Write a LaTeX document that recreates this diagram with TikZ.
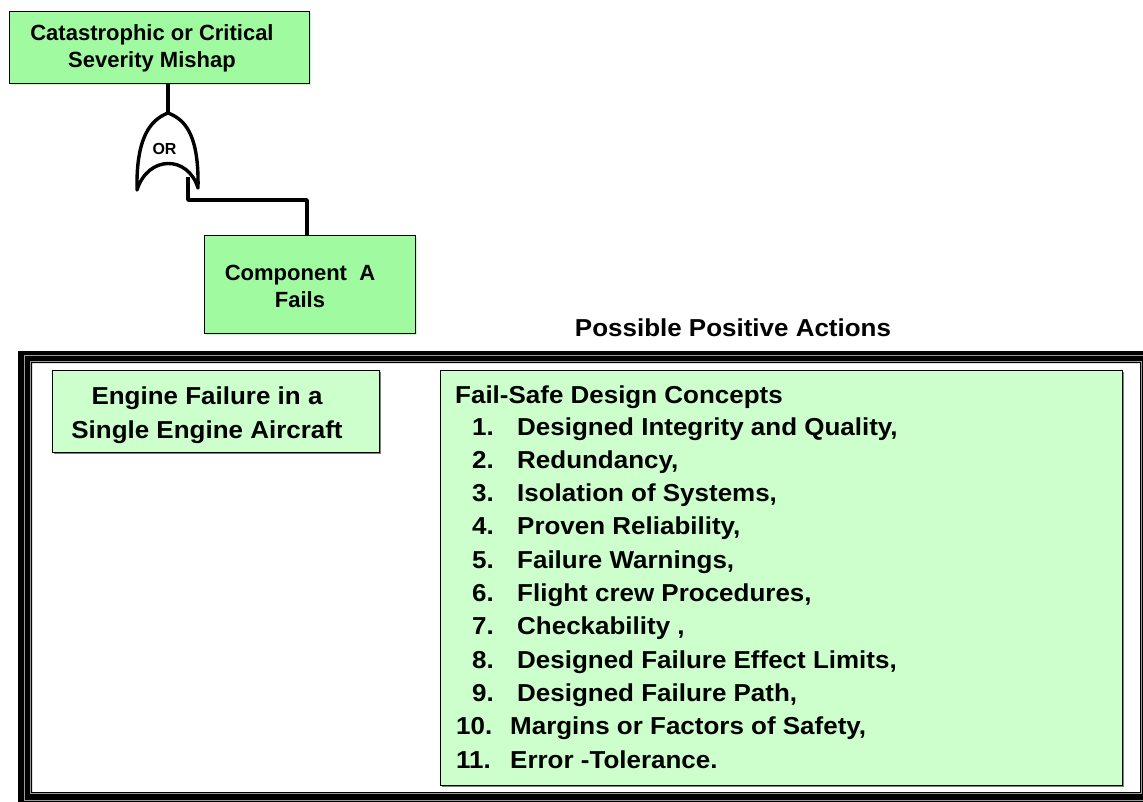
\documentclass[tikz,border=0pt]{standalone}
\usepackage{fontspec}
\setmainfont{Liberation Sans}
\newfontfamily\widef{Liberation Sans}[FakeStretch=1.06]
\definecolor{gA}{HTML}{A0FAA0}
\definecolor{gAs}{HTML}{C8F8C8}
\definecolor{gB}{HTML}{CCFFCC}
\definecolor{bandgray}{HTML}{9A9A9A}
\tikzset{
  boxA/.style={draw=black, line width=1, fill=gA, inner sep=0, anchor=north west},
  boxB/.style={draw=black, line width=0.9, fill=gB, inner sep=0, anchor=north west},
  txtA/.style={font=\fontsize{22}{27}\selectfont\bfseries, align=center, inner sep=0, anchor=base},
  txtB/.style={font=\widef\fontsize{24.5}{34}\selectfont\bfseries, align=center, inner sep=0, anchor=base},
  itemtxt/.style={font=\widef\fontsize{24.5}{30}\selectfont\bfseries, inner sep=0, anchor=base west},
  wire/.style={line width=3.4, line join=round},
}
\begin{document}
\begin{tikzpicture}[x=1pt,y=-1pt]
\useasboundingbox (0,0) rectangle (1143,802);
% top event box
\fill[gAs] (11,13) rectangle (311,85);
\node[boxA, minimum width=300, minimum height=72] (top) at (9,11) {};
\node[txtA] (toptxt) at (152,68) {Catastrophic or Critical\\Severity Mishap};
% OR gate
\coordinate (gtop) at (168,113);
\coordinate (gL) at (137,190);
\coordinate (gR) at (198,188);
\draw[wire, fill=white] (gL) .. controls (136,138) and (150,120) .. (gtop)
   .. controls (187,120) and (199,138) .. (gR)
   .. controls (188,155) and (148,155) .. (gL) -- cycle;
\node[font=\fontsize{16}{16}\selectfont\bfseries, inner sep=0] (ortxt) at (164.5,149) {OR};
\draw[wire] (gtop |- top.south) -- (gtop);
% component box
\fill[gAs] (206,237) rectangle (417,335);
\node[boxA, minimum width=211, minimum height=98] (comp) at (204,235) {};
\node[txtA] (comptxt) at (300,308) {Component\ \ A\\Fails};
\coordinate (gin) at (188,177);
\coordinate (bend) at (307,200);
\draw[wire] (gin) |- (bend) -- (bend |- comp.north);
% heading
\node[txtB] (head) at (733,337) {Possible Positive Actions};
% frame
\fill[black, even odd rule] (18,351) rectangle (1170,830) (32,363) rectangle (1140,792);
\draw[bandgray, line width=1] (24,355.5) rectangle (1148,800);
\draw[bandgray, line width=1.2] (30.5,361.5) rectangle (1141.5,793.5);
% engine box
\fill[gray] (53.5,371.5) rectangle (380.5,453.5);
\node[boxB, minimum width=327, minimum height=82] (eng) at (52,370) {};
\node[txtB] (engtxt) at (207,438) {Engine Failure in a\\Single Engine Aircraft};
% fail-safe box
\fill[gray!80!green] (441.5,371.5) rectangle (1123.5,786.5);
\node[boxB, minimum width=682, minimum height=415] (fs) at (440,370) {};
\node[itemtxt] (fshead) at (455,403) {Fail-Safe Design Concepts};
\foreach \i/\t in {1/Designed Integrity and Quality{,},
                   2/Redundancy{,},
                   3/Isolation of Systems{,},
                   4/Proven Reliability{,},
                   5/Failure Warnings{,},
                   6/Flight crew Procedures{,},
                   7/Checkability {,},
                   8/Designed Failure Effect Limits{,},
                   9/Designed Failure Path{,}} {
  \node[itemtxt] (n\i) at (472,{435+33.3*(\i-1)}) {\i.};
  \node[itemtxt] (t\i) at (517,{435+33.3*(\i-1)}) {\t};
}
\node[itemtxt] (n10) at (456,{435+33.3*9}) {10.};
\node[itemtxt] (t10) at (510,{435+33.3*9}) {Margins or Factors of Safety,};
\node[itemtxt] (n11) at (456,{435+33.3*10}) {11.};
\node[itemtxt] (t11) at (510,{435+33.3*10}) {Error -Tolerance.};
\end{tikzpicture}
\end{document}
